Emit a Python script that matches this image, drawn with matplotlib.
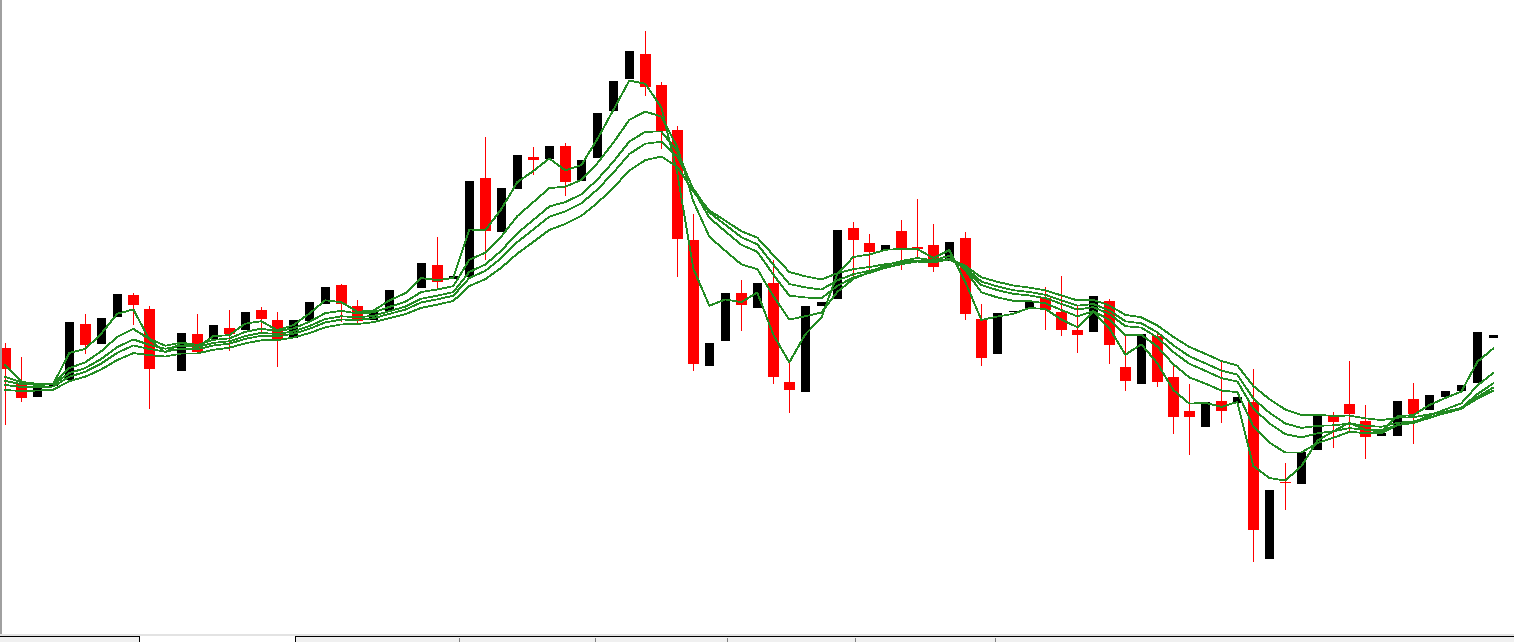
import matplotlib
matplotlib.use("Agg")
import matplotlib.pyplot as plt
from matplotlib.patches import Rectangle
import numpy as np

# === candle data, oldest -> newest ===
opens = [294, 259, 245, 256, 262, 318, 298, 325, 347, 333,
         276, 271, 308, 303, 314, 312, 332, 322, 304, 321,
         338, 357, 336, 322, 331, 356, 354, 377, 363, 365,
         464, 410, 453, 485, 483, 496, 461, 484, 531, 563,
         588, 557, 512, 402, 276, 301, 349, 334, 359, 260,
         250, 336, 343, 414, 399, 392, 411, 395, 397, 381,
         404, 323, 288, 330, 333, 344, 330, 312, 310, 341,
         275, 258, 306, 265, 231, 215, 241, 239, 240, 83,
         160, 158, 192, 226, 238, 221, 206, 206, 243, 232,
         245, 251, 259, 304]
highs = [299, 285, 254, 259, 320, 328, 324, 348, 349, 336,
         276, 309, 328, 317, 332, 330, 335, 330, 322, 340,
         355, 358, 342, 332, 352, 356, 379, 405, 366, 461,
         505, 454, 487, 495, 496, 499, 482, 529, 561, 591,
         611, 560, 516, 428, 299, 349, 362, 359, 382, 282,
         336, 340, 412, 420, 408, 397, 422, 443, 418, 400,
         410, 338, 329, 331, 340, 355, 366, 336, 346, 343,
         308, 308, 311, 276, 258, 240, 282, 245, 273, 152,
         179, 190, 227, 230, 281, 237, 209, 241, 259, 247,
         251, 257, 310, 307]
lows = [218, 241, 245, 256, 262, 289, 298, 325, 318, 234,
        276, 271, 289, 303, 292, 312, 311, 276, 304, 321,
        338, 321, 319, 322, 331, 356, 354, 354, 363, 365,
        383, 410, 453, 468, 483, 447, 461, 484, 531, 563,
        547, 494, 366, 272, 276, 301, 312, 334, 259, 230,
        250, 336, 343, 365, 370, 392, 373, 385, 371, 381,
        323, 277, 288, 330, 333, 313, 307, 290, 310, 279,
        252, 258, 256, 209, 188, 215, 220, 239, 81, 83,
        133, 158, 192, 195, 211, 184, 206, 206, 199, 232,
        245, 251, 259, 304]
closes = [273, 244, 254, 259, 320, 297, 324, 348, 337, 273,
          276, 309, 290, 317, 308, 330, 323, 303, 322, 340,
          355, 338, 321, 332, 352, 356, 379, 360, 366, 461,
          411, 454, 487, 482, 496, 460, 482, 529, 561, 591,
          555, 511, 403, 278, 299, 349, 337, 359, 265, 252,
          336, 340, 412, 402, 390, 397, 394, 393, 375, 400,
          328, 284, 329, 331, 340, 332, 312, 307, 346, 297,
          261, 308, 260, 225, 225, 240, 231, 245, 112, 152,
          159, 190, 227, 220, 228, 205, 209, 241, 228, 247,
          251, 257, 310, 307]

# === moving averages ===
ma_fast = [277, 260.5, 257.2, 258.1, 289, 293, 308.5, 328.2, 332.6, 302.8,
           289.4, 299.2, 294.6, 305.8, 306.9, 318.4, 320.7, 311.8, 316.9, 328.4,
           341.7, 339.8, 330.4, 331.2, 341.6, 348.8, 363.9, 361.9, 364, 412.5,
           411.7, 432.9, 459.9, 471, 483.5, 471.7, 476.9, 502.9, 532, 561.5,
           558.2, 534.6, 468.8, 373.4, 336.2, 342.6, 339.8, 349.4, 307.2, 279.6,
           307.8, 323.9, 367.9, 385, 387.5, 392.2, 393.1, 393, 384, 392,
           360, 322, 325.5, 328.2, 334.1, 333, 322.5, 314.8, 330.4, 313.7,
           287.3, 297.7, 278.8, 251.9, 238.4, 239.2, 235.1, 240, 176, 164,
           161.5, 175.8, 201.4, 210.7, 219.3, 212.2, 210.6, 225.8, 226.9, 237,
           244, 250.5, 280.2, 293.6]
ma_2 = [265, 259.7, 258.3, 258.5, 273.9, 279.7, 290.8, 305.1, 313.1, 303.1,
        296.3, 299.5, 297.1, 302.1, 303.6, 310.2, 313.4, 310.8, 313.6, 320.2,
        328.9, 331.2, 328.6, 329.5, 335.1, 340.3, 350, 352.5, 355.9, 382.2,
        389.4, 405.5, 425.9, 439.9, 453.9, 455.4, 462, 478.7, 499.3, 522.2,
        530.4, 525.5, 494.9, 440.7, 405.3, 391.2, 377.6, 372.9, 345.9, 322.4,
        325.8, 329.4, 350.1, 363.1, 369.8, 376.6, 381, 384, 381.7, 386.3,
        371.7, 349.8, 344.6, 341.2, 340.9, 338.7, 332, 325.7, 330.8, 322.3,
        307, 307.2, 295.4, 277.8, 264.6, 258.4, 251.5, 249.9, 215.4, 199.5,
        189.4, 189.5, 198.9, 204.2, 210.2, 208.9, 208.9, 216.9, 219.7, 226.5,
        232.6, 238.7, 256.5, 269.1]
ma_3 = [261, 257.9, 257.2, 257.5, 268.9, 274, 283.1, 294.9, 302.6, 297.2,
        293.3, 296.2, 295.1, 299.1, 300.7, 306, 309.1, 308, 310.5, 315.9,
        323, 325.7, 324.8, 326.1, 330.8, 335.4, 343.3, 346.3, 349.9, 370.1,
        377.5, 391.4, 408.8, 422.1, 435.5, 440, 447.6, 462.4, 480.3, 500.4,
        510.3, 510.4, 490.9, 452.2, 424.3, 410.6, 397.2, 390.2, 367.4, 346.4,
        344.5, 343.7, 356.1, 364.5, 369.1, 374.2, 377.8, 380.6, 379.6, 383.3,
        373.2, 357, 351.9, 348.1, 346.6, 343.9, 338.1, 332.4, 334.9, 328,
        315.8, 314.4, 304.5, 290, 278.2, 271.2, 263.9, 260.5, 233.5, 218.7,
        207.8, 204.6, 208.7, 210.8, 213.9, 212.3, 211.7, 217, 219, 224.1,
        229, 234.1, 247.9, 258.7]
ma_4 = [257, 255, 254.8, 255.4, 265.3, 270.2, 278.5, 289.2, 296.6, 293,
        290.4, 293.3, 292.8, 296.5, 298.3, 303.2, 306.2, 305.7, 308.2, 313.1,
        319.6, 322.4, 322.2, 323.7, 328.1, 332.4, 339.6, 342.7, 346.3, 364,
        371.2, 384, 399.9, 412.5, 425.4, 430.7, 438.6, 452.5, 469.2, 488,
        498.3, 500.3, 485.3, 453.4, 429.6, 417.2, 404.8, 397.7, 377.3, 358,
        354.6, 352.4, 361.6, 367.8, 371.2, 375.2, 378.1, 380.4, 379.6, 382.7,
        374.3, 360.4, 355.6, 351.8, 350, 347.2, 341.8, 336.4, 337.9, 331.6,
        320.7, 318.7, 309.7, 296.7, 285.7, 278.7, 271.4, 267.3, 243.4, 229.3,
        218.5, 214.1, 216.1, 216.7, 218.4, 216.3, 215.2, 219.2, 220.6, 224.7,
        228.8, 233.1, 244.9, 254.5]
ma_slow = [252, 251, 251.4, 252.3, 260.8, 265.3, 272.6, 282, 288.9, 286.9,
           285.5, 288.4, 288.6, 292.2, 294.2, 298.7, 301.7, 301.9, 304.4, 308.9,
           314.7, 317.6, 318, 319.8, 323.8, 327.8, 334.2, 337.4, 341, 356,
           362.9, 374.3, 388.4, 400.1, 412.1, 418.1, 426.1, 439, 454.3, 471.4,
           481.9, 485.5, 475.2, 450.5, 431.6, 421.3, 410.8, 404.3, 386.9, 370,
           365.7, 362.5, 368.7, 372.9, 375, 377.8, 379.8, 381.5, 380.7, 383.1,
           376.2, 364.7, 360.2, 356.5, 354.4, 351.6, 346.6, 341.6, 342.2, 336.5,
           327.1, 324.7, 316.6, 305.1, 295.1, 288.2, 281, 276.5, 255.9, 242.9,
           232.4, 227.1, 227.1, 226.2, 226.4, 223.7, 221.9, 224.3, 224.8, 227.6,
           230.5, 233.8, 243.3, 251.3]

o = np.array(opens, dtype=float)
h = np.array(highs, dtype=float)
l = np.array(lows, dtype=float)
c = np.array(closes, dtype=float)
x = np.arange(len(c))
up = c > o
down = c < o

# === Plotting ===
fig = plt.figure(figsize=(15.14, 6.42), dpi=100)
ax = fig.add_axes([0, 0, 1, 1])
ax.set_xlim(-0.33, 94.29)
ax.set_ylim(0, 642)
ax.axis('off')

px = 0.72  # one pixel in points
ax.vlines(x[down], l[down], h[down], color='#ff0000', linewidth=px, antialiased=False)
ax.bar(x[down], (o - c)[down], bottom=c[down], width=11 / 16, color='#ff0000',
       linewidth=0, antialiased=False)
ax.bar(x[up], (c - o)[up], bottom=o[up], width=9 / 16, color='#000000',
       linewidth=0, antialiased=False)

for ma in (ma_slow, ma_4, ma_3, ma_2, ma_fast):
    ax.plot(x, ma, color='#228b22', linewidth=0.5, antialiased=False)

# window frame: left border and the tab strip at the bottom
tr = fig.dpi_scale_trans
def box(x0, y0, x1, y1, **kw):
    fig.add_artist(Rectangle((x0 / 100, (642 - y1) / 100), (x1 - x0) / 100, (y1 - y0) / 100,
                             transform=tr, antialiased=False, **kw))

box(0, 0, 2, 634, facecolor='#a0a0a0', linewidth=0)
box(0, 634, 1514, 636, facecolor='#e3e3e3', linewidth=0)
box(0, 636, 1514, 642, facecolor='#f0f0f0', linewidth=0)
box(0, 636, 139, 637, facecolor='#000000', linewidth=0)
box(139, 636, 140, 642, facecolor='#000000', linewidth=0)
box(140, 636, 295, 642, facecolor='#ffffff', linewidth=0)
box(295, 636, 1514, 637, facecolor='#000000', linewidth=0)
box(295, 636, 296, 642, facecolor='#000000', linewidth=0)
for sx in (459, 595, 727, 855, 995):
    box(sx, 638, sx + 1, 642, facecolor='#808080', linewidth=0)

plt.savefig("out.png", dpi=100)
